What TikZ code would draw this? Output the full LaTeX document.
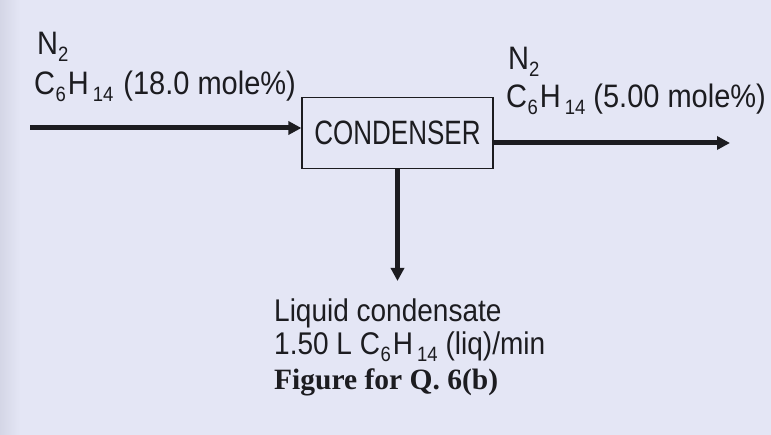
\documentclass[tikz,border=0pt]{standalone}
\usepackage{graphicx}
\usepackage{fontspec}
\setmainfont{Liberation Sans}
\newfontfamily\figfont{Liberation Serif}
\usetikzlibrary{arrows.meta}
\definecolor{bgc}{RGB}{228,230,245}
\definecolor{edgec}{RGB}{212,214,230}
\definecolor{ink}{RGB}{28,28,32}
\newcommand{\lowidx}[1]{\raisebox{-0.2em}{\fontsize{18.5}{18.5}\selectfont #1}}
\newcommand{\chemhex}{C\kern0.5pt\lowidx{6}\kern2pt H\kern4pt\lowidx{14}}
\newcommand{\tallish}[1]{\scalebox{1}[1.12]{#1}}
\tikzset{
  lbl/.style={anchor=base west, inner sep=0pt, text=ink, font=\fontsize{29}{31}\selectfont},
  unitbox/.style={draw=ink, line width=1.2pt, minimum width=191pt, minimum height=71pt, inner sep=0pt, text=ink, font=\fontsize{26}{30}\selectfont},
  flow/.style={draw=ink, line width=5pt, -{Triangle[length=13pt,width=13pt]}}
}
\begin{document}
\begin{tikzpicture}[x=1pt,y=-1pt]
\fill[bgc] (0,0) rectangle (771,435);
\shade[left color=edgec, right color=bgc] (0,0) rectangle (20,435);
\useasboundingbox (0,0) rectangle (771,435);
\node[unitbox] (box) at (397.5,133) {\scalebox{1}[1.3]{CONDENSER}};
\coordinate (in) at (30,128);
\coordinate (out) at (730,143);
\coordinate (liq) at (397.5,281);
\draw[flow] (in) -- (box.west |- in);
\draw[flow] (box.east |- out) -- (out);
\draw[flow] (box.south) -- (liq);
\node[lbl] (n2a) at (37,55) {\tallish{N\lowidx{2}}};
\node[lbl] (feed) at (34,95) {\tallish{\chemhex\hspace{10pt}(18.0 mole\%)}};
\node[lbl] (n2b) at (508,70) {\tallish{N\lowidx{2}}};
\node[lbl] (prod) at (506,108) {\tallish{\chemhex\hspace{8pt}(5.00 mole\%)}};
\node[lbl, font=\fontsize{28}{30}\selectfont] (cond1) at (274,322) {\tallish{Liquid condensate}};
\node[lbl, font=\fontsize{28}{30}\selectfont] (cond2) at (274,355) {\tallish{1.50 L \chemhex\hspace{8pt}(liq)/min}};
\node[lbl, font=\figfont\bfseries\fontsize{29.5}{31}\selectfont] (cap) at (274,390) {Figure for Q. 6(b)};
\end{tikzpicture}
\end{document}
